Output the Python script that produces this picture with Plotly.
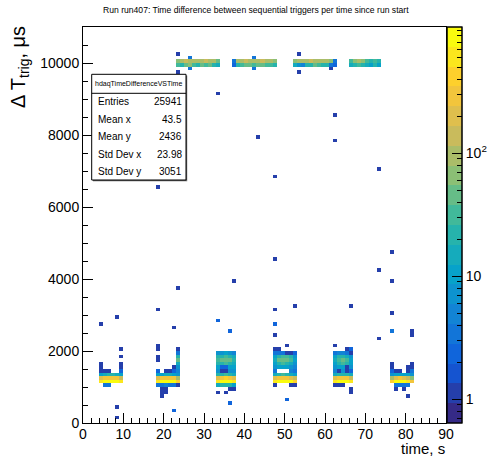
import numpy as np
import plotly.graph_objects as go

# ---------------- data ----------------
TITLE = "Run run407: Time difference between sequential triggers per time since run start"
X_TITLE = "time, s"
Y_TITLE = "Δ T<sub>trig</sub>, μs"
STATS_NAME = "hdaqTimeDifferenceVSTime"
STATS_LABELS = ["Entries", "Mean x", "Mean y", "Std Dev x", "Std Dev y"]
STATS_VALUES = ["25941", "43.5", "2436", "23.98", "3051"]

X_MIN, X_MAX, X_BIN = 0, 90, 1          # time, s
Y_MIN, Y_MAX, Y_BIN = 0, 11000, 100     # delta T, us

# low-dt clusters: first time bin (s), dt rows (us, lower bin edge), counts per time bin
block1_t0 = 4
block1_dt = [2000, 1800, 1600, 1500, 1400, 1300, 1200, 1100, 1000]
block1_n = [[0, 0, 0, 0, 0, 1],
            [0, 0, 0, 0, 0, 1],
            [1, 0, 0, 0, 0, 1],
            [1, 0, 0, 0, 0, 1],
            [1, 1, 1, 0, 0, 2],
            [12, 15, 20, 18, 14, 10],
            [200, 280, 320, 300, 250, 150],
            [700, 900, 950, 900, 800, 550],
            [0, 3, 3, 0, 0, 0]]

block2_t0 = 18
block2_dt = [2600, 2100, 2000, 1900, 1800, 1700, 1600, 1500, 1400, 1300, 1200, 1100, 1000, 900, 800, 700, 300]
block2_n = [[0, 0, 0, 0, 1, 0],
            [1, 0, 0, 0, 0, 0],
            [1, 0, 0, 0, 0, 1],
            [0, 0, 0, 0, 0, 3],
            [1, 0, 0, 0, 0, 25],
            [1, 0, 0, 0, 0, 40],
            [0, 0, 0, 0, 0, 15],
            [0, 0, 0, 0, 1, 8],
            [2, 0, 1, 1, 2, 5],
            [10, 12, 15, 14, 12, 8],
            [200, 280, 320, 300, 250, 100],
            [650, 900, 950, 900, 800, 450],
            [3, 4, 5, 4, 4, 1],
            [0, 1, 1, 0, 0, 0],
            [0, 1, 1, 0, 0, 0],
            [0, 1, 0, 0, 0, 0],
            [0, 0, 0, 0, 1, 0]]

block3_t0 = 33
block3_dt = [2800, 2500, 1900, 1800, 1700, 1600, 1500, 1400, 1300, 1200, 1100, 1000, 900, 800, 500]
block3_n = [[1, 0, 0, 0, 0],
            [0, 0, 0, 1, 0],
            [6, 8, 9, 8, 5],
            [20, 25, 30, 25, 15],
            [30, 40, 45, 40, 20],
            [20, 25, 30, 25, 15],
            [10, 2, 2, 12, 10],
            [8, 1, 1, 6, 8],
            [20, 25, 30, 25, 15],
            [220, 300, 350, 300, 180],
            [700, 950, 980, 900, 600],
            [15, 20, 25, 20, 10],
            [0, 0, 0, 1, 1],
            [1, 0, 1, 0, 0],
            [0, 0, 0, 1, 0]]

block4_t0 = 47
block4_dt = [2700, 2400, 2100, 2000, 1900, 1800, 1700, 1600, 1500, 1400, 1300, 1200, 1100, 1000, 600]
block4_n = [[1, 0, 0, 0, 0, 0],
            [1, 0, 0, 0, 0, 0],
            [0, 0, 0, 1, 0, 0],
            [1, 1, 0, 0, 0, 0],
            [3, 4, 4, 1, 1, 2],
            [10, 20, 30, 30, 20, 8],
            [15, 40, 50, 45, 30, 10],
            [10, 25, 30, 25, 15, 8],
            [6, 12, 10, 12, 8, 5],
            [4, 0, 0, 0, 5, 3],
            [15, 22, 28, 22, 16, 10],
            [180, 260, 320, 290, 220, 130],
            [650, 880, 960, 920, 750, 500],
            [1, 0, 0, 0, 1, 1],
            [0, 0, 0, 1, 0, 0]]

block5_t0 = 62
block5_dt = [2100, 2000, 1900, 1800, 1700, 1600, 1500, 1400, 1300, 1200, 1100, 1000, 900, 800]
block5_n = [[1, 0, 0, 0, 0],
            [0, 0, 0, 1, 2],
            [4, 5, 5, 3, 1],
            [12, 20, 25, 15, 8],
            [15, 30, 40, 30, 12],
            [10, 25, 30, 20, 10],
            [6, 10, 12, 1, 6],
            [5, 1, 8, 1, 2],
            [15, 20, 25, 20, 15],
            [170, 260, 310, 260, 160],
            [650, 880, 920, 820, 580],
            [1, 1, 1, 0, 0],
            [0, 0, 0, 0, 1],
            [0, 0, 0, 0, 1]]

block6_t0 = 76
block6_dt = [1600, 1500, 1400, 1300, 1200, 1100, 1000, 900, 700]
block6_n = [[1, 0, 0, 0, 0, 1],
            [1, 0, 0, 0, 1, 1],
            [2, 1, 1, 0, 1, 3],
            [8, 10, 12, 12, 10, 6],
            [100, 200, 250, 220, 150, 60],
            [500, 800, 900, 800, 600, 250],
            [0, 3, 4, 4, 3, 0],
            [0, 1, 0, 1, 0, 0],
            [0, 0, 0, 0, 1, 0]]

# band near 10 ms: first time bin of each segment, counts in the 10000 and 9900 us rows
band_t0 = [23, 37, 52, 66]
band_top = [[70, 90, 120, 100, 80, 110, 90, 130, 100, 80, 45],
            [3, 80, 100, 120, 90, 110, 100, 130, 90, 80, 60],
            [70, 100, 110, 90, 120, 100, 110, 90, 80, 70, 3],
            [30, 70, 100, 60, 35, 25, 30, 18]]
band_bottom = [[30, 20, 40, 60, 30, 25, 50, 35, 45, 20, 15],
               [2, 25, 35, 50, 40, 30, 45, 40, 35, 30, 20],
               [15, 6, 5, 20, 25, 40, 30, 20, 25, 4, 2],
               [15, 20, 30, 25, 15, 12, 18, 10]]
BAND_DT_TOP, BAND_DT_BOTTOM = 10000, 9900

# isolated entries: time (s), dt (us), count
single_t = [23, 23, 26, 26, 42, 42, 53, 53, 61,
            33, 62, 43, 62, 73, 47, 18, 47, 76, 73, 76, 37, 23,
            18, 47, 52, 66, 76, 4, 8, 33, 47, 36, 76, 81, 81, 73,
            8, 8, 22, 36, 50]
single_dt = [10200, 9700, 10100, 9800, 10100, 9800, 10200, 9700, 9800,
             9100, 8500, 7900, 7800, 7000, 6800, 6500, 4500, 4700, 4200, 3900, 3900, 3700,
             3100, 3100, 3200, 3200, 3000, 2700, 2900, 2800, 2700, 2500, 2500, 2500, 2400, 2300,
             400, 100, 300, 500, 600]
single_n = [1, 1, 3, 3, 3, 3, 1, 1, 1,
            1, 1, 1, 1, 1, 1, 1, 1, 1, 1, 1, 1, 1,
            1, 1, 1, 1, 1, 1, 1, 1, 1, 1, 3, 1, 1, 1,
            1, 1, 1, 1, 1]

# colour axis (log10 of counts)
Z_LOG_MIN, Z_LOG_MAX = -0.194, 3.026
N_CONTOURS = 20

# ---------------- build histogram ----------------
NX = int((X_MAX - X_MIN) / X_BIN)
NY = int((Y_MAX - Y_MIN) / Y_BIN)
H = np.zeros((NY, NX))


def fill(t, dt, n):
    ix = int((t - X_MIN) // X_BIN)
    iy = int((dt - Y_MIN) // Y_BIN)
    if 0 <= ix < NX and 0 <= iy < NY:
        H[iy, ix] += n


for t0, dts, rows in [(block1_t0, block1_dt, block1_n), (block2_t0, block2_dt, block2_n),
                      (block3_t0, block3_dt, block3_n), (block4_t0, block4_dt, block4_n),
                      (block5_t0, block5_dt, block5_n), (block6_t0, block6_dt, block6_n)]:
    for dt, row in zip(dts, rows):
        for j, n in enumerate(row):
            fill(t0 + j * X_BIN, dt, n)

for t0, top, bot in zip(band_t0, band_top, band_bottom):
    for j, n in enumerate(top):
        fill(t0 + j * X_BIN, BAND_DT_TOP, n)
    for j, n in enumerate(bot):
        fill(t0 + j * X_BIN, BAND_DT_BOTTOM, n)

for t, dt, n in zip(single_t, single_dt, single_n):
    fill(t, dt, n)

Z = np.where(H > 0, np.log10(np.where(H > 0, H, 1)), np.nan)
x_centers = X_MIN + (np.arange(NX) + 0.5) * X_BIN
y_centers = Y_MIN + (np.arange(NY) + 0.5) * Y_BIN

# ---------------- ROOT kBird palette, 20 discrete levels ----------------
stops = [0.0, 0.125, 0.25, 0.375, 0.5, 0.625, 0.75, 0.875, 1.0]
red = [0.2082, 0.0592, 0.0780, 0.0232, 0.1802, 0.5301, 0.8186, 0.9956, 0.9764]
green = [0.1664, 0.3599, 0.5041, 0.6419, 0.7178, 0.7492, 0.7328, 0.7862, 0.9832]
blue = [0.5293, 0.8684, 0.8385, 0.7914, 0.6425, 0.4662, 0.3499, 0.1968, 0.0539]


def bird(f):
    f = min(max(f, 0.0), 1.0)
    r = np.interp(f, stops, red)
    g = np.interp(f, stops, green)
    b = np.interp(f, stops, blue)
    return "rgb(%d,%d,%d)" % (round(r * 255), round(g * 255), round(b * 255))


colorscale = []
for i in range(N_CONTOURS):
    c = bird(i / (N_CONTOURS - 1))
    colorscale.append([i / N_CONTOURS, c])
    colorscale.append([(i + 1) / N_CONTOURS, c])

FONT = "Liberation Sans, Arial, Helvetica, sans-serif"

minor_vals = []
for dec in [0.1, 1, 10, 100]:
    for m in range(2, 10):
        v = np.log10(m * dec)
        if Z_LOG_MIN < v < Z_LOG_MAX:
            minor_vals.append(v)
minor_vals.append(3.0)

fig = go.Figure()
fig.add_trace(go.Heatmap(
    x=x_centers, y=y_centers, z=Z, zmin=Z_LOG_MIN, zmax=Z_LOG_MAX,
    colorscale=colorscale, hoverongaps=False,
    colorbar=dict(x=1.003, xanchor="left", xpad=0, ypad=0, y=0.5, yanchor="middle",
                  len=1, lenmode="fraction", thickness=15, outlinewidth=1, outlinecolor="black",
                  ticks="inside", ticklen=5, tickcolor="black", tickvals=minor_vals,
                  showticklabels=False)))
# transparent companion carrying the labelled (major) colour-axis ticks
fig.add_trace(go.Heatmap(
    x=x_centers, y=y_centers, z=Z, zmin=Z_LOG_MIN, zmax=Z_LOG_MAX,
    colorscale=[[0, "rgba(0,0,0,0)"], [1, "rgba(0,0,0,0)"]], hoverinfo="skip",
    colorbar=dict(x=1.003, xanchor="left", xpad=0, ypad=0, y=0.5, yanchor="middle",
                  len=1, lenmode="fraction", thickness=15, outlinewidth=1, outlinecolor="black",
                  ticks="inside", ticklen=10, tickcolor="black",
                  tickvals=[0, 1, 2], ticktext=["1", "10", "10<sup>2</sup>"],
                  tickfont=dict(family=FONT, size=14, color="black"))))

L, R, T, B = 83, 45, 27, 35
W, HGT = 491, 458
PW, PH = W - L - R, HGT - T - B


def px(xp):
    return (xp - L) / PW


def py(yp):
    return 1 - (yp - T) / PH


shapes = []
annotations = []
# stats box
bx0, bx1, by0, by1 = 91.7, 186.0, 74.3, 180.0
shapes.append(dict(type="rect", xref="paper", yref="paper", x0=px(bx0 + 1.2), x1=px(bx1 + 1.2),
                   y0=py(by0 + 1.2), y1=py(by1 + 1.2), line=dict(width=0), fillcolor="#666666"))
shapes.append(dict(type="rect", xref="paper", yref="paper", x0=px(bx0), x1=px(bx1),
                   y0=py(by0), y1=py(by1), line=dict(width=1, color="black"), fillcolor="white"))
shapes.append(dict(type="line", xref="paper", yref="paper", x0=px(bx0), x1=px(bx1),
                   y0=py(93.3), y1=py(93.3), line=dict(width=1, color="black")))
annotations.append(dict(text=STATS_NAME, xref="paper", yref="paper", x=px((bx0 + bx1) / 2),
                        y=py(84.0), xanchor="center", yanchor="middle", showarrow=False,
                        font=dict(family=FONT, size=7, color="black")))
row_y = [101.7, 119.3, 136.7, 154.3, 171.7]
for lab, val, yy in zip(STATS_LABELS, STATS_VALUES, row_y):
    annotations.append(dict(text=lab, xref="paper", yref="paper", x=px(96.0), y=py(yy),
                            xanchor="left", yanchor="middle", showarrow=False,
                            font=dict(family=FONT, size=10, color="black")))
    annotations.append(dict(text=val, xref="paper", yref="paper", x=px(184.0), y=py(yy),
                            xanchor="right", yanchor="middle", showarrow=False,
                            font=dict(family=FONT, size=10, color="black")))
# title and axis titles
annotations.append(dict(text=TITLE, xref="paper", yref="paper", x=px(255.5), y=py(9.5),
                        xanchor="center", yanchor="middle", showarrow=False,
                        font=dict(family=FONT, size=8.6, color="black")))
annotations.append(dict(text=X_TITLE, xref="paper", yref="paper", x=px(445.7), y=py(458),
                        xanchor="right", yanchor="bottom", showarrow=False, borderpad=0,
                        font=dict(family=FONT, size=15, color="black")))
annotations.append(dict(text=Y_TITLE, xref="paper", yref="paper", x=px(19), y=py(24),
                        xanchor="center", yanchor="top", showarrow=False, textangle=-90,
                        font=dict(family=FONT, size=20, color="black")))

fig.update_layout(
    width=W, height=HGT, margin=dict(l=L, r=R, t=T, b=B, autoexpand=False),
    paper_bgcolor="white", plot_bgcolor="white", showlegend=False,
    font=dict(family=FONT, color="black"),
    shapes=shapes, annotations=annotations,
    xaxis=dict(range=[X_MIN, X_MAX], tick0=0, dtick=10, ticks="inside", ticklen=10,
               tickcolor="black", tickwidth=1, showline=True, linecolor="black", linewidth=1,
               mirror=True, showgrid=False, zeroline=False, ticklabelstandoff=-2,
               tickfont=dict(family=FONT, size=14, color="black"),
               minor=dict(dtick=2, tick0=0, ticks="inside", ticklen=5, tickcolor="black", showgrid=False)),
    yaxis=dict(range=[Y_MIN, Y_MAX], tick0=0, dtick=2000, ticks="inside", ticklen=10,
               tickcolor="black", tickwidth=1, showline=True, linecolor="black", linewidth=1,
               mirror=True, showgrid=False, zeroline=False, tickformat="d",
               tickfont=dict(family=FONT, size=14, color="black"),
               minor=dict(dtick=500, tick0=0, ticks="inside", ticklen=5, tickcolor="black", showgrid=False)),
)

fig.write_html("out.html")
